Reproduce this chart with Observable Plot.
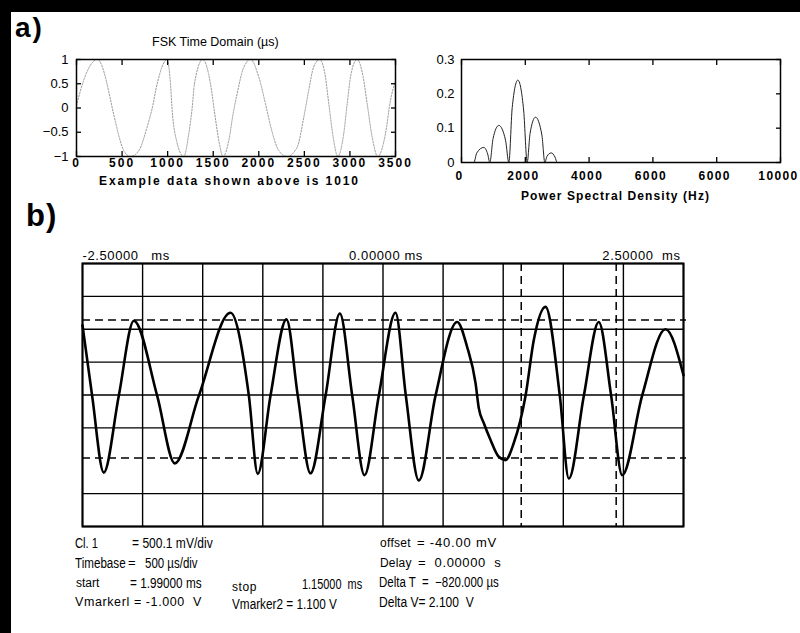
<!DOCTYPE html>
<html><head><meta charset="utf-8">
<script src="https://cdn.jsdelivr.net/npm/d3@7"></script>
<script src="https://cdn.jsdelivr.net/npm/@observablehq/plot@0.6"></script>
<style>
body{margin:0;background:#fff;}
#wrap{position:relative;width:800px;height:633px;overflow:hidden;background:#fff;font-family:"Liberation Sans",Arial,sans-serif;color:#000;}
#topbar{position:absolute;left:0;top:0;width:800px;height:12px;background:#000;}
#leftbar{position:absolute;left:0;top:0;width:11px;height:633px;background:#000;}
.abs{position:absolute;white-space:pre;line-height:1;transform-origin:0 50%;}
.bold{font-weight:bold;}
.pl{position:absolute;}
.pl svg{overflow:visible;}
.spaced g[aria-label="x-axis tick label"]{letter-spacing:2px;font-weight:bold;}
.spaced2 g[aria-label="x-axis tick label"]{letter-spacing:1.4px;font-weight:bold;}
.scope g[aria-label="text"]{letter-spacing:0.6px;}
</style></head><body>
<div id="wrap">
<div id="topbar"></div><div id="leftbar"></div>
</div>
<script>
// ---- panel a) left : FSK time domain ----
const fskTime = [0, 73, 230, 428, 464, 519, 592, 684, 775, 830, 885, 995, 1031, 1050, 1097, 1177, 1232, 1269, 1294, 1385, 1470, 1514, 1561, 1609, 1671, 1720, 1763, 1829, 1909, 2000, 2073, 2147, 2220, 2311, 2421, 2494, 2548, 2603, 2669, 2731, 2768, 2816, 2867, 2932, 2970, 3013, 3079, 3145, 3189, 3244, 3305, 3390, 3445, 3500];
const fskAmp  = [0.05, 0.54, 1.0, -0.29, -0.57, -0.88, -1.0, -0.88, -0.39, -0.01, 0.5, 1.0, 0.5, -0.05, -0.67, -1.0, -0.53, 0.0, 0.5, 1.0, 0.5, -0.08, -0.67, -1.0, -0.67, -0.1, 0.3, 0.81, 1.0, 0.64, 0.09, -0.5, -0.88, -1.0, -0.81, -0.19, 0.37, 0.85, 1.0, 0.64, 0.09, -0.6, -1.0, -0.53, 0.09, 0.71, 1.0, 0.64, 0.09, -0.6, -1.0, -0.53, 0.16, 0.55];
const fskXTicks = [0, 500, 1000, 1500, 2000, 2500, 3000, 3500];
const fskYTicks = [-1, -0.5, 0, 0.5, 1];

// ---- panel a) right : power spectral density ----
const psdFreq  = [0, 386, 480, 700, 820, 888, 990, 1170, 1380, 1484, 1590, 1766, 1950, 2059, 2150, 2320, 2520, 2612, 2680, 2811, 2930, 3000, 10000];
const psdPower = [0, 0, 0.028, 0.044, 0.025, 0, 0.07, 0.108, 0.065, 0, 0.16, 0.24, 0.15, 0, 0.085, 0.132, 0.08, 0, 0.018, 0.028, 0.016, 0, 0];
const psdXTicks = [0, 2000, 4000, 6000, 8000, 10000];
const psdXTickLabels = ["0", "2000", "4000", "6000", "6000", "10000"];
const psdYTicks = [0, 0.1, 0.2, 0.3];

// ---- panel b) : oscilloscope ----
const scopeTime = [-2.5, -2.42, -2.323, -2.198, -2.073, -1.879, -1.732, -1.532, -1.269, -1.116, -1.042, -0.936, -0.803, -0.709, -0.603, -0.478, -0.359, -0.256, -0.154, -0.035, 0.104, 0.19, 0.298, 0.437, 0.617, 0.70, 0.77, 0.797, 0.839, 0.894, 0.963, 1.019, 1.088, 1.186, 1.255, 1.352, 1.471, 1.546, 1.671, 1.795, 1.898, 1.990, 2.156, 2.35, 2.5];
const scopeVolt = [1.02, -0.05, -1.22, -0.05, 1.09, -0.05, -1.08, -0.05, 1.21, -0.05, -1.24, -0.05, 1.11, -0.05, -1.23, -0.05, 1.20, -0.05, -1.26, -0.05, 1.21, -0.05, -1.34, -0.05, 1.07, 0.69, 0.14, -0.24, -0.47, -0.72, -0.98, -1.03, -0.77, -0.05, 0.80, 1.30, -0.05, -1.31, -0.05, 1.07, -0.05, -1.26, -0.05, 0.96, 0.26];
const scopeGridTime = [-2.5, -2, -1.5, -1, -0.5, 0, 0.5, 1, 1.5, 2, 2.5];
const scopeGridVolt = [-2.04, -1.54, -0.54, -0.04, 0.46, 0.96, 1.46, 1.96];
const vMarkers = [-1.0, 1.1];
const tMarkers = [1.15, 1.94];
const scopeLabelTimes = [-2.5, 0, 2.5];
const scopeTimeLabels = ["-2.50000   ms", "0.00000 ms", "2.50000  ms"];

const wrap = document.getElementById("wrap");
function place(el, left, top, cls) {
  const d = document.createElement("div");
  d.className = "pl " + (cls || "");
  d.style.left = left + "px"; d.style.top = top + "px";
  d.appendChild(el); wrap.appendChild(d);
}
function label(text, left, top, size, cls, extra) {
  const d = document.createElement("div");
  d.className = "abs " + (cls || "");
  d.textContent = text;
  d.style.left = left + "px"; d.style.top = top + "px"; d.style.fontSize = size + "px";
  if (extra) Object.assign(d.style, extra);
  wrap.appendChild(d);
  return d;
}
const blank = () => "";
const minusFmt = d => d < 0 ? "\u2212" + String(-d) : String(d);
const FONT = '"Liberation Sans", Arial, sans-serif';

// Plot 1
const fskData = fskTime.map((t, i) => ({t, v: fskAmp[i]}));
const p1 = Plot.plot({
  width: 420, height: 200, marginLeft: 76, marginRight: 25, marginTop: 59, marginBottom: 44,
  x: {domain: [0, 3500], label: null}, y: {domain: [-1, 1], label: null},
  style: {fontFamily: FONT, fontSize: "13px", background: "transparent", color: "#000"},
  marks: [
    Plot.line(fskData, {x: "t", y: "v", curve: "monotone-x", stroke: "#8c8c8c", strokeWidth: 0.9, strokeDasharray: "1.5,1.5"}),
    Plot.frame({stroke: "#000", strokeWidth: 1.5}),
    Plot.axisY({ticks: fskYTicks, tickSize: 0, tickPadding: 8, fontSize: 13, tickFormat: minusFmt}),
    Plot.axisY({ticks: fskYTicks, tickSize: -5, tickFormat: blank, strokeWidth: 1.3}),
    Plot.axisY({anchor: "right", ticks: fskYTicks, tickSize: -5, tickFormat: blank, strokeWidth: 1.3}),
    Plot.axisX({ticks: fskXTicks, tickSize: 0, tickPadding: 2, fontSize: 12, tickFormat: d => String(d)}),
    Plot.axisX({ticks: fskXTicks, tickSize: -5, tickFormat: blank, strokeWidth: 1.3}),
    Plot.axisX({anchor: "top", ticks: fskXTicks, tickSize: -5, tickFormat: blank, strokeWidth: 1.3})
  ]
});
place(p1, 0, 0, "spaced");

// Plot 2
const psdData = psdFreq.map((f, i) => ({f, p: psdPower[i]}));
const p2 = Plot.plot({
  width: 400, height: 200, marginLeft: 61, marginRight: 20, marginTop: 59, marginBottom: 38,
  x: {domain: [0, 10000], label: null}, y: {domain: [0, 0.3], label: null},
  style: {fontFamily: FONT, fontSize: "13px", background: "transparent", color: "#000"},
  marks: [
    Plot.line(psdData, {x: "f", y: "p", curve: "monotone-x", stroke: "#222", strokeWidth: 1}),
    Plot.frame({stroke: "#000", strokeWidth: 1.5}),
    Plot.axisY({ticks: psdYTicks, tickSize: 0, tickPadding: 7, fontSize: 13, tickFormat: d => d === 0 ? "0" : d3.format(".1f")(d)}),
    Plot.axisY({anchor: "right", ticks: psdYTicks, tickSize: -5, tickFormat: blank, strokeWidth: 1.3}),
    Plot.axisX({ticks: psdXTicks, tickSize: 0, tickPadding: 9, fontSize: 12, tickFormat: (d, i) => psdXTickLabels[i], dx: -2}),
    Plot.axisX({ticks: psdXTicks, tickSize: -5, tickFormat: blank, strokeWidth: 1.3}),
    Plot.axisX({anchor: "top", ticks: psdXTicks, tickSize: -5, tickFormat: blank, strokeWidth: 1.3})
  ]
});
place(p2, 400, 0, "spaced2");

// Plot 3 (scope)
const scopeData = scopeTime.map((t, i) => ({t, v: scopeVolt[i]}));
const p3 = Plot.plot({
  width: 800, height: 300, marginLeft: 82, marginRight: 117, marginTop: 33, marginBottom: 4,
  x: {domain: [-2.5, 2.5], label: null, axis: null}, y: {domain: [-2.04, 1.96], label: null, axis: null},
  style: {fontFamily: FONT, fontSize: "13px", background: "transparent", color: "#000"},
  marks: [
    Plot.ruleX(scopeGridTime, {stroke: "#000", strokeWidth: 1.4}),
    Plot.ruleY(scopeGridVolt, {stroke: "#000", strokeWidth: 1.4}),
    Plot.ruleY(vMarkers, {stroke: "#000", strokeWidth: 1.5, strokeDasharray: "8,5", insetRight: -3}),
    Plot.ruleX(tMarkers, {stroke: "#000", strokeWidth: 1.5, strokeDasharray: "8,5"}),
    Plot.line(scopeData, {x: "t", y: "v", curve: "monotone-x", stroke: "#000", strokeWidth: 2.6}),
    Plot.frame({stroke: "#000", strokeWidth: 2}),
    Plot.text([0], {x: i => scopeLabelTimes[0], text: i => scopeTimeLabels[0], frameAnchor: "top", dy: -13, textAnchor: "start", fontSize: 13}),
    Plot.text([0], {x: i => scopeLabelTimes[1], text: i => scopeTimeLabels[1], frameAnchor: "top", dy: -13, textAnchor: "middle", fontSize: 13, dx: 3}),
    Plot.text([0], {x: i => scopeLabelTimes[2], text: i => scopeTimeLabels[2], frameAnchor: "top", dy: -13, textAnchor: "end", fontSize: 13, dx: -3})
  ]
});
place(p3, 0, 230, "scope");

// headings
label("a)", 15, 14, 28, "bold", {letterSpacing: "2px"});
label("FSK Time Domain (\u00b5s)", 152, 36, 12.5, "");
label("Example data shown above is 1010", 99, 175, 12, "bold", {letterSpacing: "1.9px"});
label("Power Spectral Density (Hz)", 521, 190, 12, "bold", {letterSpacing: "1.1px"});
label("b)", 26, 200, 31, "bold", {letterSpacing: "1px"});

// scope readout (narrow text squeezed horizontally)
const nar = s => ({transform: `scaleX(${s})`});
label("Cl. 1", 75, 536, 14, "", nar(0.8));
label("= 500.1 mV/div", 132, 536, 14, "", nar(0.86));
label("offset", 380, 537, 12, "", {letterSpacing: "0.3px"});
label("= -40.00 mV", 417, 536, 13, "", {letterSpacing: "0.8px"});
label("Timebase", 75, 556, 14, "", nar(0.83));
label("=", 128, 556, 13, "");
label("500 \u00b5s/div", 145, 556, 14, "", nar(0.82));
label("Delay", 380, 557, 12, "", {letterSpacing: "0.2px"});
label("=  0.00000  s", 418, 556, 13, "", {letterSpacing: "0.6px"});
label("start", 76, 577, 12, "");
label("= 1.99000 ms", 130, 576, 14, "", nar(0.84));
label("stop", 232, 581, 12, "", {letterSpacing: "0.6px"});
label("1.15000  ms", 302, 577, 14, "", nar(0.78));
label("Delta T  =  \u2212820.000 \u00b5s", 379, 575, 14, "", nar(0.82));
label("Vmarkerl = -1.000  V", 75, 596, 12.5, "", {letterSpacing: "0.6px"});
label("Vmarker2 = 1.100 V", 232, 597, 14, "", nar(0.84));
label("Delta V= 2.100  V", 379, 595, 14, "", nar(0.86));
</script>
</body></html>
